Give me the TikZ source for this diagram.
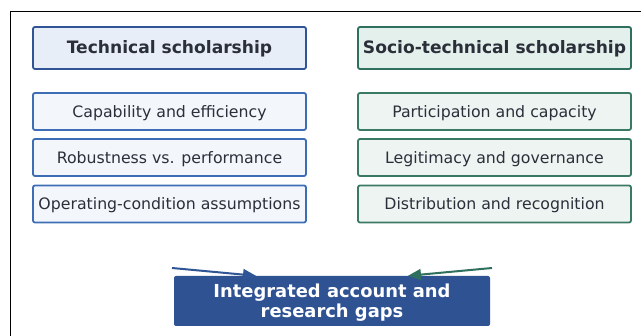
\documentclass[tikz,border=0pt]{standalone}
\usepackage{fontspec}
\setmainfont{DejaVu Sans}
\usetikzlibrary{arrows.meta}
\definecolor{bluedark}{HTML}{2F5597}
\definecolor{blueline}{HTML}{3D6DB5}
\definecolor{bluehead}{HTML}{E8EEF7}
\definecolor{bluefill}{HTML}{F3F6FB}
\definecolor{greendark}{HTML}{2E6F5E}
\definecolor{greenline}{HTML}{3A7A64}
\definecolor{greenhead}{HTML}{E4F0EB}
\definecolor{greenfill}{HTML}{EEF4F1}
\definecolor{txt}{HTML}{2A2F3A}
\definecolor{sumfill}{HTML}{2F5293}
\tikzset{
  base/.style={rounded corners=2pt, line width=1.8pt, minimum width=273pt, inner sep=0pt, text=txt, text depth=0pt},
  bhead/.style={base, draw=bluedark, fill=bluehead, minimum height=42pt, text height=10.5pt, font=\fontsize{17.1}{19}\selectfont\bfseries},
  ghead/.style={base, draw=greendark, fill=greenhead, minimum height=42pt, text height=10.5pt, font=\fontsize{17.1}{19}\selectfont\bfseries},
  bitem/.style={base, draw=blueline, fill=bluefill, minimum height=37pt, text height=11.2pt, font=\fontsize{15.75}{18}\selectfont},
  gitem/.style={base, draw=greenline, fill=greenfill, minimum height=37pt, text height=11.2pt, font=\fontsize{15.75}{18}\selectfont},
  sumbox/.style={rounded corners=2pt, fill=sumfill, draw=none, minimum width=316pt, minimum height=50pt, inner sep=0pt},
  sumtxt/.style={text=white, align=center, inner sep=0pt, font=\fontsize{17.9}{20.7}\selectfont\bfseries},
  barrow/.style={-{Triangle[length=13pt,width=11pt]}, line width=2pt, draw=bluedark},
  garrow/.style={-{Triangle[length=13pt,width=11pt]}, line width=2pt, draw=greendark}
}
\begin{document}
\begin{tikzpicture}[x=1pt,y=-1pt]
\useasboundingbox (0,0) rectangle (641,336);
\fill[white] (0,0) rectangle (641,336);
\draw[line width=1pt, black] (10.5,340) -- (10.5,11.5) -- (645,11.5);
\node[bhead] (th) at (169.5,48) {Technical scholarship};
\node[ghead] (sh) at (494.5,48) {Socio-technical scholarship};
\node[bitem] (t1) at (169.5,111.5) {Capability and efficiency};
\node[bitem] (t2) at (169.5,157.5) {Robustness vs. performance};
\node[bitem] (t3) at (169.5,204) {Operating-condition assumptions};
\node[gitem] (s1) at (494.5,111.5) {Participation and capacity};
\node[gitem] (s2) at (494.5,157.5) {Legitimacy and governance};
\node[gitem] (s3) at (494.5,204) {Distribution and recognition};
\node[sumbox] (sum) at (332,301) {};
\node[sumtxt] (sumtext) at (332,302.5) {Integrated account and\\research gaps};
\coordinate (bstart) at (172,268);
\coordinate (gstart) at (492,268);
\draw[barrow] (bstart) -- (sum.north -| 256,0);
\draw[garrow] (gstart) -- (sum.north -| 408,0);
\end{tikzpicture}
\end{document}
